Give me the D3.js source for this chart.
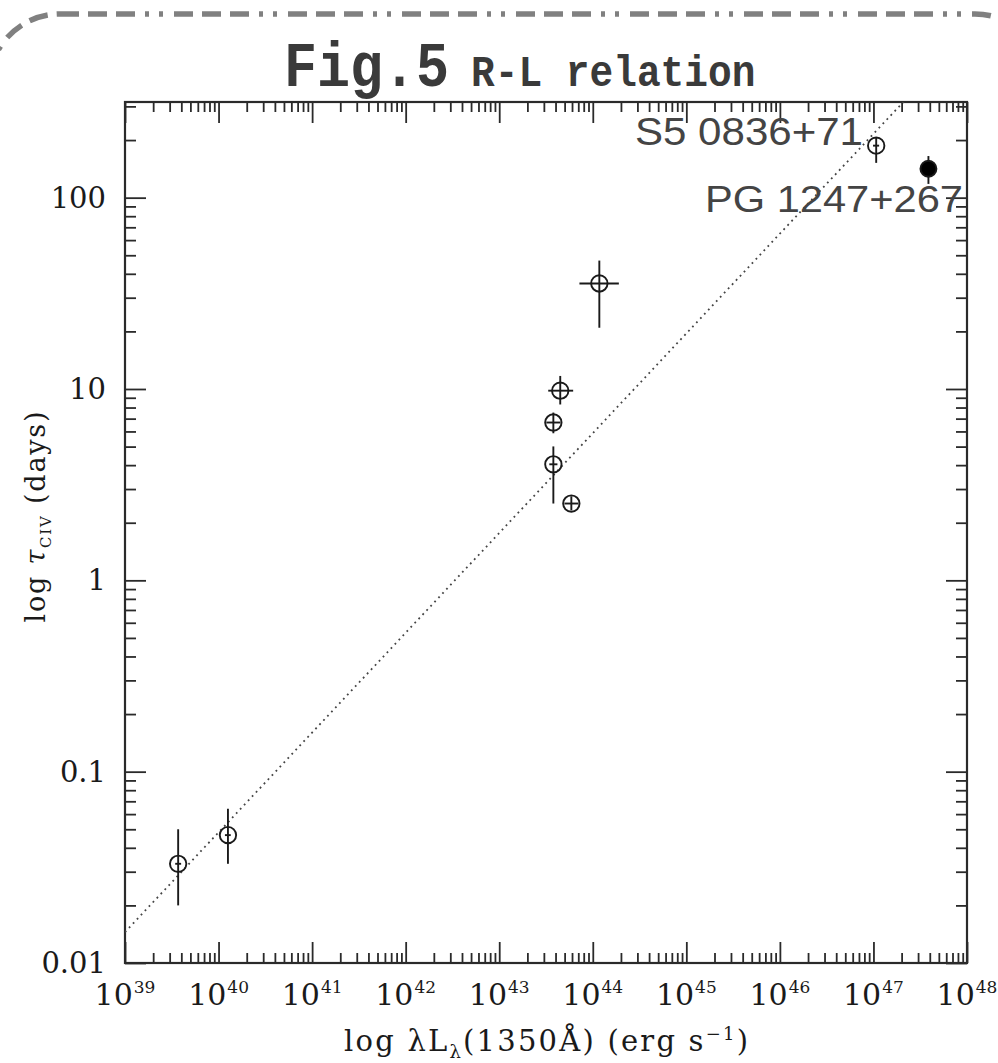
<!DOCTYPE html>
<html>
<head>
<meta charset="utf-8">
<script src="https://cdn.jsdelivr.net/npm/d3@7"></script>
<style>
body { margin: 0; background: #fff; }
svg { display: block; }
</style>
</head>
<body>
<div id="chart"></div>
<script>

// open circles: reverberation mapped objects (L in erg/s, lag in days)
var lumin   = [3.7e39, 1.26e40, 3.79e43, 3.79e43, 4.49e43, 5.9e43, 1.175e44, 1.07e47];
var luminLo = [3.44e39, 1.17e40, 3.43e43, 3.19e43, 3.34e43, 4.98e43, 7.2e43, 0.99e47];
var luminHi = [3.98e39, 1.35e40, 4.19e43, 4.51e43, 6.17e43, 7.02e43, 1.9e44, 1.15e47];
var lag     = [0.033, 0.0466, 4.04, 6.68, 9.8, 2.52, 35.6, 187];
var lagLo   = [0.020, 0.033, 2.52, 5.87, 8.3, 2.32, 20.9, 152];
var lagHi   = [0.050, 0.064, 5.01, 7.53, 11.7, 2.75, 46.9, 206];

// filled circle: PG 1247+267
var pgLumin = [3.87e47];
var pgLag   = [141.6];
var pgLagLo = [118];
var pgLagHi = [165];

var labelNames = ["S5 0836+71", "PG 1247+267"];

// dotted R-L fit: lag = fitLag39 * (L / 1e39)^fitSlope
var fitSlope = 0.5215;
var fitLag39 = 0.0145;
var fitRange = [1e39, 1e48];

var xDecades = [39, 40, 41, 42, 43, 44, 45, 46, 47, 48];
var yTicks = [0.01, 0.1, 1, 10, 100];
var yTickLabels = ["0.01", "0.1", "1", "10", "100"];

function drawChart() {

	var W = 998, H = 1063;
	var pLeft = 125, pRight = 967, pTop = 102, pBottom = 963;

	var svg = d3.select("#chart").append("svg").attr("width", W).attr("height", H);

	// dashed rounded border at the top
	svg.append("rect")
		.attr("x", -11).attr("y", 14)
		.attr("width", 1057).attr("height", 1200)
		.attr("rx", 71).attr("ry", 71)
		.attr("fill", "none")
		.attr("stroke", "#808080")
		.attr("stroke-width", 5.5)
		.attr("stroke-dasharray", "19,9,19,9,19,10,4,10,4,11");

	// title
	var title = svg.append("text")
		.attr("transform", "translate(284,86) scale(1,1.14)")
		.attr("font-family", "Liberation Mono")
		.attr("font-weight", "bold")
		.attr("fill", "#3a3a3a");
	title.append("tspan").attr("font-size", 55).text("Fig.5");
	title.append("tspan").attr("font-size", 39.5).attr("dx", 22).text("R-L relation");

	var x = d3.scaleLog().domain([1e39, 1e48]).range([pLeft, pRight]);
	var y = d3.scaleLog().domain([0.01, 316.2]).range([pBottom, pTop]);

	var xMajor = xDecades.map(function(d) { return Math.pow(10, d); });
	var xMinor = [];
	xDecades.slice(0, -1).forEach(function(d) {
		for (var k = 2; k <= 9; k++) xMinor.push(k * Math.pow(10, d));
	});
	var yMinor = [];
	[-2, -1, 0, 1, 2].forEach(function(d) {
		for (var k = 2; k <= 9; k++) {
			var v = k * Math.pow(10, d);
			if (v <= 316) yMinor.push(v);
		}
	});

	function drawAxis(axisFn, scale, pos, values, size) {
		var g = svg.append("g")
			.attr("transform", pos)
			.call(axisFn(scale).tickValues(values).tickSize(-size).tickSizeOuter(0).tickFormat(""));
		g.select(".domain").remove();
		g.selectAll("line").attr("stroke", "#2a2a2a").attr("stroke-width", 1.8);
	}

	drawAxis(d3.axisBottom, x, "translate(0," + pBottom + ")", xMajor, 21);
	drawAxis(d3.axisBottom, x, "translate(0," + pBottom + ")", xMinor, 10);
	drawAxis(d3.axisTop, x, "translate(0," + pTop + ")", xMajor, 21);
	drawAxis(d3.axisTop, x, "translate(0," + pTop + ")", xMinor, 10);
	drawAxis(d3.axisLeft, y, "translate(" + pLeft + ",0)", yTicks, 21);
	drawAxis(d3.axisLeft, y, "translate(" + pLeft + ",0)", yMinor, 11);
	drawAxis(d3.axisRight, y, "translate(" + pRight + ",0)", yTicks, 21);
	drawAxis(d3.axisRight, y, "translate(" + pRight + ",0)", yMinor, 11);

	svg.append("rect")
		.attr("x", pLeft).attr("y", pTop)
		.attr("width", pRight - pLeft).attr("height", pBottom - pTop)
		.attr("fill", "none")
		.attr("stroke", "#2a2a2a")
		.attr("stroke-width", 2.2);

	// tick labels
	svg.append("g").selectAll("text")
		.data(yTicks)
		.enter().append("text")
		.attr("x", pLeft - 19)
		.attr("y", function(d) { return y(d) + 10; })
		.attr("text-anchor", "end")
		.attr("font-family", "DejaVu Serif")
		.attr("font-size", 29)
		.attr("fill", "#1a1a1a")
		.text(function(d, i) { return yTickLabels[i]; });

	var xl = svg.append("g").selectAll("text")
		.data(xDecades)
		.enter().append("text")
		.attr("x", function(d) { return x(Math.pow(10, d)); })
		.attr("y", 1005)
		.attr("text-anchor", "middle")
		.attr("font-family", "DejaVu Serif")
		.attr("fill", "#1a1a1a");
	xl.append("tspan").attr("font-size", 30).text("10");
	xl.append("tspan").attr("font-size", 17).attr("dy", -12).attr("dx", 1).text(function(d) { return d; });

	// axis titles
	var xt = svg.append("text")
		.attr("x", (pLeft + pRight) / 2)
		.attr("y", 1051)
		.attr("text-anchor", "middle")
		.attr("font-family", "DejaVu Serif")
		.attr("font-size", 29)
		.attr("textLength", 404).attr("lengthAdjust", "spacing")
		.attr("fill", "#1a1a1a");
	xt.append("tspan").text("log λL");
	xt.append("tspan").attr("font-size", 18).attr("dy", 7).text("λ");
	xt.append("tspan").attr("dy", -7).text("(1350Å) (erg s");
	xt.append("tspan").attr("font-size", 18).attr("dy", -11).text("−1");
	xt.append("tspan").attr("dy", 11).text(")");

	var yt = svg.append("text")
		.attr("transform", "translate(45,517) rotate(-90)")
		.attr("text-anchor", "middle")
		.attr("font-family", "DejaVu Serif")
		.attr("font-size", 27)
		.attr("textLength", 211).attr("lengthAdjust", "spacing")
		.attr("fill", "#1a1a1a");
	yt.append("tspan").text("log ");
	yt.append("tspan").attr("font-style", "italic").text("τ");
	yt.append("tspan").attr("font-size", 15).attr("dy", 6).text("CIV");
	yt.append("tspan").attr("dy", -6).text(" (days)");

	// fit line, clipped to frame
	svg.append("clipPath").attr("id", "plotClip")
		.append("rect").attr("x", pLeft).attr("y", pTop).attr("width", pRight - pLeft).attr("height", pBottom - pTop);

	var fitLine = d3.line()
		.x(function(d) { return x(d); })
		.y(function(d) { return y(fitLag39 * Math.pow(d / 1e39, fitSlope)); });

	svg.append("path")
		.datum(fitRange)
		.attr("clip-path", "url(#plotClip)")
		.attr("d", fitLine)
		.attr("fill", "none")
		.attr("stroke", "#444")
		.attr("stroke-width", 1.8)
		.attr("stroke-dasharray", "1.8,4");

	// points with error bars
	var pts = svg.append("g").attr("stroke", "#1a1a1a").attr("stroke-width", 1.9);
	lumin.forEach(function(L, i) {
		pts.append("line")
			.attr("x1", x(L)).attr("x2", x(L))
			.attr("y1", y(lagLo[i])).attr("y2", y(lagHi[i]));
		pts.append("line")
			.attr("x1", x(luminLo[i])).attr("x2", x(luminHi[i]))
			.attr("y1", y(lag[i])).attr("y2", y(lag[i]));
		pts.append("circle")
			.attr("cx", x(L)).attr("cy", y(lag[i]))
			.attr("r", 8.2)
			.attr("fill", "none");
	});
	pgLumin.forEach(function(L, i) {
		pts.append("line")
			.attr("x1", x(L)).attr("x2", x(L))
			.attr("y1", y(pgLagLo[i])).attr("y2", y(pgLagHi[i]));
		pts.append("circle")
			.attr("cx", x(L)).attr("cy", y(pgLag[i]))
			.attr("r", 8)
			.attr("fill", "#000");
	});

	// object names
	svg.append("text")
		.attr("x", 635).attr("y", 145)
		.attr("font-family", "Liberation Sans")
		.attr("font-size", 38)
		.attr("textLength", 228).attr("lengthAdjust", "spacingAndGlyphs")
		.attr("fill", "#444")
		.text(labelNames[0]);
	svg.append("text")
		.attr("x", 705).attr("y", 212)
		.attr("font-family", "Liberation Sans")
		.attr("font-size", 36)
		.attr("textLength", 258).attr("lengthAdjust", "spacingAndGlyphs")
		.attr("fill", "#444")
		.text(labelNames[1]);
}

drawChart();

</script>
</body>
</html>
